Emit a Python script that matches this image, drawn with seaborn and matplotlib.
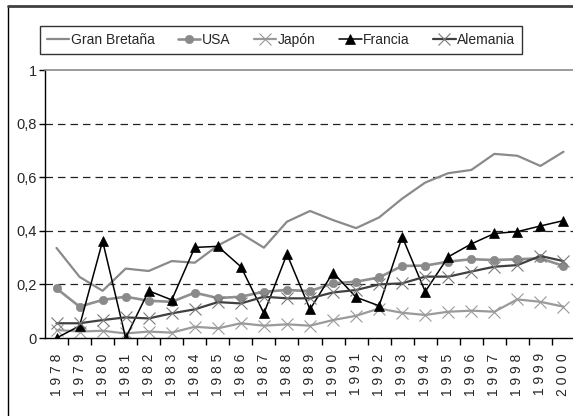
import numpy as np
import pandas as pd
import matplotlib
matplotlib.use("Agg")
import matplotlib.pyplot as plt
from matplotlib.lines import Line2D
from matplotlib.ticker import FixedLocator
import seaborn as sns

years = list(range(1978, 2001))

gran_bretana = [0.336, 0.228, 0.176, 0.259, 0.250, 0.287, 0.281, 0.345, 0.390, 0.337,
                0.434, 0.474, 0.440, 0.410, 0.450, 0.520, 0.580, 0.615, 0.627, 0.687,
                0.680, 0.642, 0.695]
usa = [0.185, 0.117, 0.142, 0.154, 0.139, 0.135, 0.169, 0.149, 0.154, 0.173,
       0.179, 0.175, 0.204, 0.210, 0.226, 0.269, 0.270, 0.285, 0.294, 0.291,
       0.294, 0.297, 0.269]
japon = [0.030, 0.024, 0.027, 0.017, 0.024, 0.020, 0.042, 0.036, 0.055, 0.046,
         0.051, 0.046, 0.067, 0.083, 0.110, 0.094, 0.086, 0.098, 0.102, 0.098,
         0.144, 0.135, 0.117]
francia = [0.0, 0.045, 0.362, 0.0, 0.176, 0.142, 0.338, 0.342, 0.266, 0.092,
           0.313, 0.107, 0.244, 0.152, 0.120, 0.378, 0.173, 0.303, 0.351, 0.390,
           0.397, 0.418, 0.438]
alemania = [0.055, 0.055, 0.067, 0.077, 0.073, 0.092, 0.107, 0.134, 0.129, 0.154,
            0.148, 0.148, 0.170, 0.179, 0.200, 0.204, 0.229, 0.229, 0.248, 0.266,
            0.272, 0.306, 0.287]

series = {
    "Gran Bretaña": gran_bretana,
    "USA": usa,
    "Japón": japon,
    "Francia": francia,
    "Alemania": alemania,
}

# style per series: (line colour, line width, marker, marker size, marker colour)
styles = {
    "Gran Bretaña": ("#8a8a8a", 1.6, None, 0, None),
    "USA": ("#8f8f8f", 1.9, "o", 6, "#8a8a8a"),
    "Japón": ("#9a9a9a", 1.6, "x", 8, "#9a9a9a"),
    "Francia": ("#000000", 1.1, "^", 7, "#000000"),
    "Alemania": ("#404040", 1.6, "x", 8, "#7a7a7a"),
}

sns.set_theme(style="white")
plt.rcParams["font.family"] = ["Liberation Sans", "DejaVu Sans"]

W, H = 573, 416
fig = plt.figure(figsize=(W / 100, H / 100), dpi=100)
ax = fig.add_axes([45 / W, 1 - 338 / H, 530 / W, (338 - 70) / H])

for name, values in series.items():
    color, lw, marker, ms, mcolor = styles[name]
    df = pd.DataFrame({"year": years, "value": values})
    kw = dict(color=color, linewidth=lw)
    if marker:
        kw.update(marker=marker, markersize=ms, markerfacecolor=mcolor,
                  markeredgecolor=mcolor, markeredgewidth=0.8 if marker == "x" else 0.5)
    sns.lineplot(data=df, x="year", y="value", ax=ax, label=name, **kw)

ax.set_xlim(1977.5, 2000.5)
ax.set_ylim(0, 1)
ax.set_xlabel("")
ax.set_ylabel("")

ax.set_yticks([0, 0.2, 0.4, 0.6, 0.8, 1.0])
ax.set_yticklabels(["0", "0,2", "0,4", "0,6", "0,8", "1"], fontsize=10.5)
for yv in [0.2, 0.4, 0.6, 0.8]:
    ax.axhline(yv, color="#222222", linewidth=0.9, dashes=(6, 4), zorder=0)

ax.set_xticks(years)
ax.set_xticklabels([" ".join(str(y)) for y in years], rotation=90, fontsize=10, va="top")
ax.xaxis.set_minor_locator(FixedLocator([y + 0.5 for y in years[:-1]]))
ax.tick_params(axis="x", which="major", length=0, pad=11)
ax.tick_params(axis="x", which="minor", length=5, width=1, color="black", direction="out", bottom=True)
ax.tick_params(axis="y", length=4, width=1, color="black", direction="out", left=True, pad=2)

ax.spines["right"].set_visible(False)
ax.spines["top"].set_color("#8a8a8a")
ax.spines["top"].set_linewidth(1.2)
ax.spines["left"].set_color("black")
ax.spines["bottom"].set_color("black")
ax.spines["left"].set_linewidth(1)
ax.spines["bottom"].set_linewidth(1)

# legend box across the top
handles, labels = ax.get_legend_handles_labels()
if ax.get_legend():
    ax.get_legend().remove()
leg = fig.legend(handles, labels, ncol=5, loc="lower left",
                 bbox_to_anchor=(40 / W, 1 - 54 / H, 482 / W, 33 / H),
                 mode="expand", frameon=True, fancybox=False, fontsize=10,
                 handlelength=1.6, handletextpad=0.1, borderaxespad=0,
                 columnspacing=1.0, borderpad=0.5)
leg.get_frame().set_edgecolor("black")
leg.get_frame().set_linewidth(1)

# outer chart frame (left and top edges visible)
fig.add_artist(Line2D([8 / W, 8 / W], [0, 1 - 6 / H], color="black", linewidth=1,
                      transform=fig.transFigure))
fig.add_artist(Line2D([8 / W, 1], [1 - 6 / H, 1 - 6 / H], color="#404040", linewidth=2,
                      transform=fig.transFigure))

fig.savefig("out.png", dpi=100)
